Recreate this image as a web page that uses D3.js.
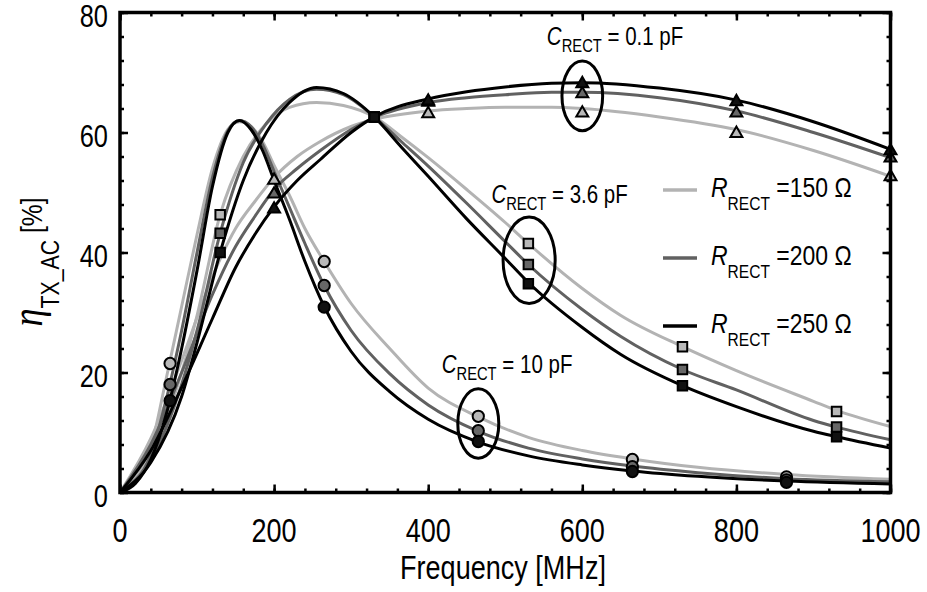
<!DOCTYPE html>
<html>
<head>
<meta charset="utf-8">
<script src="https://cdn.jsdelivr.net/npm/d3@7"></script>
<style>
html,body{margin:0;padding:0;background:#fff;}
svg{display:block;}
</style>
</head>
<body>
<svg id="chart" width="927" height="592"></svg>
<script>
// ---------- data ----------
const xTicks = [0, 200, 400, 600, 800, 1000];
const yTicks = [0, 20, 40, 60, 80];

// C_RECT = 10 pF curves
const freq10 = [0,20,40,60,80,100,120,140,155,170,185,200,220,240,265,300,350,400,465,530,600,665,750,865,1000];
const eta10_150 = [0,2.2,7.5,19,31,43,54,60.5,61.8,61,58.5,54.5,49.5,44,38.5,31.5,24,17.4,12.6,9.2,7.0,5.6,4.2,3.0,2.2];
const eta10_200 = [0,1.8,6.3,15.5,27,40,52.5,60.3,62,61,58,53.5,47.5,41.5,34.5,27,19.8,14.6,10.2,7.4,5.6,4.4,3.3,2.3,1.8];
const eta10_250 = [0,1.5,5.5,13,24,37,51,60,62,60.5,57,52,45.5,38.5,31,23.5,16.8,12.2,8.4,6.1,4.6,3.6,2.7,1.9,1.4];

// C_RECT = 3.6 pF curves
const freq36 = [0,40,80,100,130,160,190,220,255,290,330,365,400,450,500,530,600,650,730,800,900,930,1000];
const eta36_150 = [0,6.5,20,29.5,46.3,56,61.5,64.2,65,64.5,62.6,59.3,55.8,50.5,45,41.5,34,29.5,24.3,20.3,15.2,13.7,11];
const eta36_200 = [0,5.5,18,27,43.2,55,61.5,65.5,67.2,66.3,62.6,58.5,54.4,48.2,41.8,38,30.5,26,20.5,17.1,12.0,10.9,8.8];
const eta36_250 = [0,5,16,25,40,52,60,65,67.5,66.5,62.6,57.6,52.7,45.6,39,35,27.5,23,17.8,14.3,10.2,9.3,7.4];

// C_RECT = 0.1 pF curves
const freq01 = [0,40,80,120,150,175,200,230,260,300,330,400,450,500,560,600,700,800,900,1000];
const eta01_150 = [0,9,22,36,44,48.5,52.5,56,58.5,61,62.2,63.6,64,64.2,64.2,64,62.6,60.5,57,52.7];
const eta01_200 = [0,8,20,33,41,46,50.5,54,57,60.5,62.5,65,65.8,66.3,66.7,66.7,65.8,63.6,60,55.8];
const eta01_250 = [0,7,17.5,29,37.5,43,47.6,52,55.5,60,62.6,65.6,66.8,67.6,68.2,68.3,67.4,65.4,61.8,57.2];

// measured markers
const circF = [65,265,465,665,865];
const circ150 = [21.5,38.5,12.7,5.5,2.6];
const circ200 = [18,34.5,10.3,4.3,2.1];
const circ250 = [15.3,30.9,8.5,3.5,1.7];
const sqF = [130,330,530,730,930];
const sq150 = [46.3,62.6,41.5,24.3,13.5];
const sq200 = [43.2,62.6,38,20.5,10.9];
const sq250 = [40,62.6,34.8,17.8,9.3];
const triF = [200,400,600,800,1000];
const tri150 = [52.2,63.3,63.4,60,52.8];
const tri200 = [49.9,65.2,66.6,63.4,55.9];
const tri250 = [47.4,65.4,68.3,65.3,57.1];

const resistances = ["150", "200", "250"];
const capLabels = ["0.1", "3.6", "10"];
// annotation anchors (data units): [freq, eta]
const capLabelPos = [[554, 74.6], [482, 48.3], [417.5, 19.9]];
// ellipses: [centre freq, centre eta, half-width MHz, half-height %]
const ellipses = [[600, 66.1, 26.4, 5.8], [531, 38.7, 33.8, 7.2], [465, 11.5, 26.6, 5.8]];

// ---------- styling ----------
const colors = {"150": "#b3b3b3", "200": "#616161", "250": "#000000"};
const fills = {"150": "#b8b8b8", "200": "#676767", "250": "#111111"};
const FONT = '"Liberation Sans", Arial, sans-serif';
const NARROW = 0.82;

// condense a text horizontally (Arial-Narrow look) around its anchor point
function narrow(sel) {
  sel.each(function () {
    const t = d3.select(this);
    const x0 = +t.attr("x") || 0, y0 = +t.attr("y") || 0;
    const tr = t.attr("transform") || "";
    t.attr("x", 0).attr("y", 0)
      .attr("transform", `${tr} translate(${x0},${y0}) scale(${NARROW},1)`);
  });
}

const svg = d3.select("#chart");
svg.append("rect").attr("width", 927).attr("height", 592).attr("fill", "#fff");

const x = d3.scaleLinear().domain([0, 1000]).range([120, 890.5]);
const y = d3.scaleLinear().domain([0, 80]).range([492.5, 12.5]);

svg.append("defs").append("clipPath").attr("id", "clip")
  .append("rect").attr("x", 120).attr("y", 12.5).attr("width", 770.5).attr("height", 480);

// ---------- curves ----------
const curves = [
  {r: "150", f: freq01, v: eta01_150}, {r: "150", f: freq36, v: eta36_150}, {r: "150", f: freq10, v: eta10_150},
  {r: "200", f: freq01, v: eta01_200}, {r: "200", f: freq36, v: eta36_200}, {r: "200", f: freq10, v: eta10_200},
  {r: "250", f: freq01, v: eta01_250}, {r: "250", f: freq36, v: eta36_250}, {r: "250", f: freq10, v: eta10_250}
];
const line = d3.line().x(d => x(d[0])).y(d => y(d[1])).curve(d3.curveMonotoneX);
const gCurves = svg.append("g").attr("clip-path", "url(#clip)");
curves.forEach(c => {
  gCurves.append("path")
    .attr("d", line(c.f.map((f, i) => [f, c.v[i]])))
    .attr("fill", "none").attr("stroke", colors[c.r]).attr("stroke-width", 3)
    .attr("stroke-linejoin", "round");
});

// ---------- markers ----------
const markerSets = [
  {type: d3.symbolCircle, size: 100, f: circF, vals: {"150": circ150, "200": circ200, "250": circ250}},
  {type: d3.symbolSquare, size: 90, f: sqF, vals: {"150": sq150, "200": sq200, "250": sq250}},
  {type: d3.symbolTriangle, size: 62, f: triF, vals: {"150": tri150, "200": tri200, "250": tri250}}
];
const gMarks = svg.append("g");
resistances.forEach(r => {
  markerSets.forEach(ms => {
    const sym = d3.symbol().type(ms.type).size(ms.size);
    ms.f.forEach((f, i) => {
      const dy = ms.type === d3.symbolTriangle ? 1 : 0;
      gMarks.append("path").attr("d", sym())
        .attr("transform", `translate(${x(f)},${y(ms.vals[r][i]) + dy})`)
        .attr("fill", fills[r]).attr("stroke", "#000").attr("stroke-width", 2);
    });
  });
});

// ---------- ellipses & annotations ----------
ellipses.forEach(e => {
  svg.append("ellipse")
    .attr("cx", x(e[0])).attr("cy", y(e[1]))
    .attr("rx", x(e[2]) - x(0)).attr("ry", y(0) - y(e[3]))
    .attr("fill", "none").attr("stroke", "#000").attr("stroke-width", 3);
});
capLabels.forEach((c, i) => {
  const t = svg.append("text").attr("x", x(capLabelPos[i][0])).attr("y", y(capLabelPos[i][1]))
    .attr("font-family", FONT).attr("font-size", 25).attr("fill", "#000");
  t.append("tspan").attr("font-style", "italic").text("C");
  t.append("tspan").attr("font-size", 18).attr("dy", 7).text("RECT");
  t.append("tspan").attr("dy", -7).text(" = " + c + " pF");
  narrow(t);
});

// ---------- axes ----------
function drawAxis(axisFn, scale, values, size, transform) {
  svg.append("g").attr("transform", transform)
    .call(axisFn(scale).tickValues(values).tickSize(size).tickFormat(""))
    .call(g => g.select(".domain").remove())
    .call(g => g.selectAll(".tick line").attr("stroke", "#000").attr("stroke-width", 2.5));
}
const xMinor = d3.range(0, 1001, 40);
const yMinor = d3.range(0, 81, 4);
drawAxis(d3.axisBottom, x, xMinor, -4, "translate(0,492.5)");
drawAxis(d3.axisBottom, x, xTicks, -8, "translate(0,492.5)");
drawAxis(d3.axisTop, x, xMinor, -4, "translate(0,12.5)");
drawAxis(d3.axisTop, x, xTicks, -8, "translate(0,12.5)");
drawAxis(d3.axisLeft, y, yMinor, -4, "translate(120,0)");
drawAxis(d3.axisLeft, y, yTicks, -8, "translate(120,0)");
drawAxis(d3.axisRight, y, yMinor, -4, "translate(890.5,0)");
drawAxis(d3.axisRight, y, yTicks, -8, "translate(890.5,0)");

svg.append("rect").attr("x", 120).attr("y", 12.5).attr("width", 770.5).attr("height", 480)
  .attr("fill", "none").attr("stroke", "#000").attr("stroke-width", 3.5);

// tick labels
svg.append("g").selectAll("text").data(xTicks).join("text")
  .attr("x", d => x(d)).attr("y", 542).attr("text-anchor", "middle")
  .attr("font-family", FONT).attr("font-size", 33).text(d => d).call(narrow);
svg.append("g").selectAll("text").data(yTicks).join("text")
  .attr("x", 108).attr("y", d => y(d) + 14.5).attr("text-anchor", "end")
  .attr("font-family", FONT).attr("font-size", 31).text(d => d).call(narrow);

// axis titles
svg.append("text").attr("x", 503).attr("y", 579).attr("text-anchor", "middle")
  .attr("font-family", FONT).attr("font-size", 33).text("Frequency [MHz]").call(narrow);

const yt = svg.append("text").attr("transform", "translate(42,262) rotate(-90)")
  .attr("text-anchor", "middle").attr("font-family", FONT).attr("font-size", 30);
yt.append("tspan").attr("font-family", '"Liberation Serif", "DejaVu Serif", serif')
  .attr("font-style", "italic").attr("font-size", 44).text("η");
yt.append("tspan").attr("font-size", 26).attr("dy", 17).text("TX_AC");
yt.append("tspan").attr("dy", -17).text(" [%]");
narrow(yt);

// ---------- legend ----------
const legendY = [190, 258, 326];
resistances.forEach((r, i) => {
  const g = svg.append("g").attr("transform", `translate(0,${legendY[i]})`);
  g.append("line").attr("x1", 663).attr("x2", 697).attr("y1", 0).attr("y2", 0)
    .attr("stroke", colors[r]).attr("stroke-width", 3.5);
  const t = g.append("text").attr("x", 711).attr("y", 7)
    .attr("font-family", FONT).attr("font-size", 28);
  t.append("tspan").attr("font-style", "italic").text("R");
  t.append("tspan").attr("font-size", 19).attr("dy", 13).text("RECT");
  t.append("tspan").attr("dy", -13).text(" =" + r + " Ω");
  narrow(t);
});
</script>
</body>
</html>
